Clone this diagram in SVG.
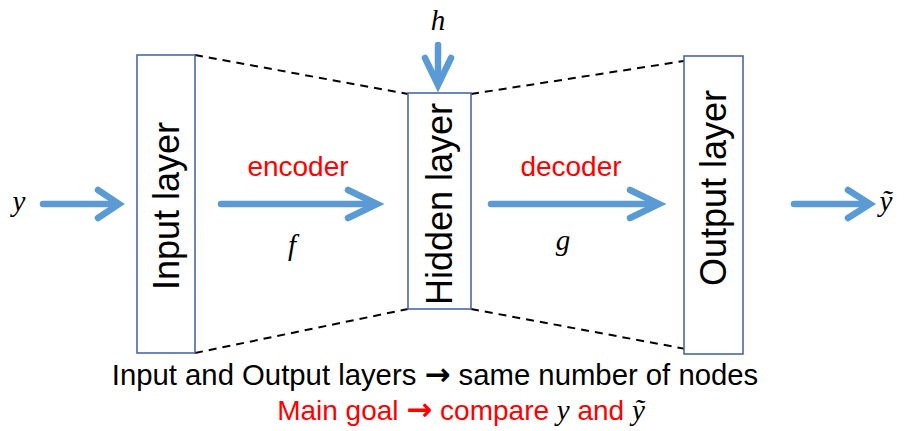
<svg xmlns="http://www.w3.org/2000/svg" width="910" height="431" viewBox="0 0 910 431">
<style>
.box{fill:#fff;stroke:#4a67a8;stroke-width:1.6}
.lbl{font-family:"Liberation Sans",Arial,sans-serif;font-size:36px;fill:#000}
.arr{fill:none;stroke:#5b9bd5;stroke-width:6.5;stroke-linejoin:miter;stroke-linecap:round}
.dash{fill:none;stroke:#000;stroke-width:2;stroke-dasharray:8 6}
.math{font-family:"Liberation Serif","Times New Roman",serif;font-style:italic;font-size:29px;fill:#000}
.red{font-family:"Liberation Sans",Arial,sans-serif;font-size:28px;fill:#ff0000}
.txt{font-family:"Liberation Sans",Arial,sans-serif;font-size:29.3px;fill:#000}
.ar{font-family:"DejaVu Sans",sans-serif;font-weight:bold;font-size:31px}
</style>
<rect width="910" height="431" fill="#fff"/>
<g id="connectors">
<line class="dash" x1="195" y1="55" x2="408" y2="94"/>
<line class="dash" x1="471" y1="94" x2="684" y2="61"/>
<line class="dash" x1="195" y1="353" x2="408" y2="309"/>
<line class="dash" x1="471" y1="309" x2="686" y2="349"/>
<g id="arrow-y">
<path class="arr" d="M43 204H116"/><path class="arr" d="M98 190L119 204L98 218"/>
</g>
<g id="arrow-encoder">
<path class="arr" d="M221 204H374"/><path class="arr" d="M348 190L377 204L348 218"/>
</g>
<g id="arrow-decoder">
<path class="arr" d="M491 204H655"/><path class="arr" d="M630 190L659 204L630 218"/>
</g>
<g id="arrow-out">
<path class="arr" d="M794 204H867"/><path class="arr" d="M848 190L870 204L848 218"/>
</g>
<g id="arrow-h">
<path class="arr" d="M438 45V83"/><path class="arr" d="M425 58L438 85L451 58"/>
</g>
</g>
<g id="input-layer">
<rect class="box" x="137" y="55" width="58" height="298"/>
<text class="lbl" transform="translate(179,206) rotate(-90)" text-anchor="middle" font-size="38">Input layer</text>
</g>
<g id="hidden-layer">
<rect class="box" x="408" y="93" width="63" height="216"/>
<text class="lbl" transform="translate(452,204) rotate(-90)" text-anchor="middle" font-size="34.5">Hidden layer</text>
</g>
<g id="output-layer">
<rect class="box" x="684" y="56" width="59" height="298"/>
<text class="lbl" transform="translate(726,188) rotate(-90)" text-anchor="middle" font-size="35.5">Output layer</text>
</g>
<g id="labels">
<text class="math" x="438" y="30" text-anchor="middle">h</text>
<text class="math" x="19" y="211" text-anchor="middle">y</text>
<text class="math" x="886" y="211" text-anchor="middle">ỹ</text>
<text class="red" x="298" y="176" text-anchor="middle">encoder</text>
<text class="red" x="571" y="176" text-anchor="middle">decoder</text>
<text class="math" x="292" y="255" text-anchor="middle">f</text>
<text class="math" x="563" y="250" text-anchor="middle">g</text>
<text class="txt" x="435" y="385" text-anchor="middle">Input and Output layers <tspan class="ar">→</tspan> same number of nodes</text>
<text class="red" x="461" y="420" text-anchor="middle" font-size="29">Main goal <tspan class="ar">→</tspan> compare <tspan class="math" fill="#ff0000">y</tspan> and <tspan class="math" fill="#ff0000">ỹ</tspan></text>
</g>
</svg>
